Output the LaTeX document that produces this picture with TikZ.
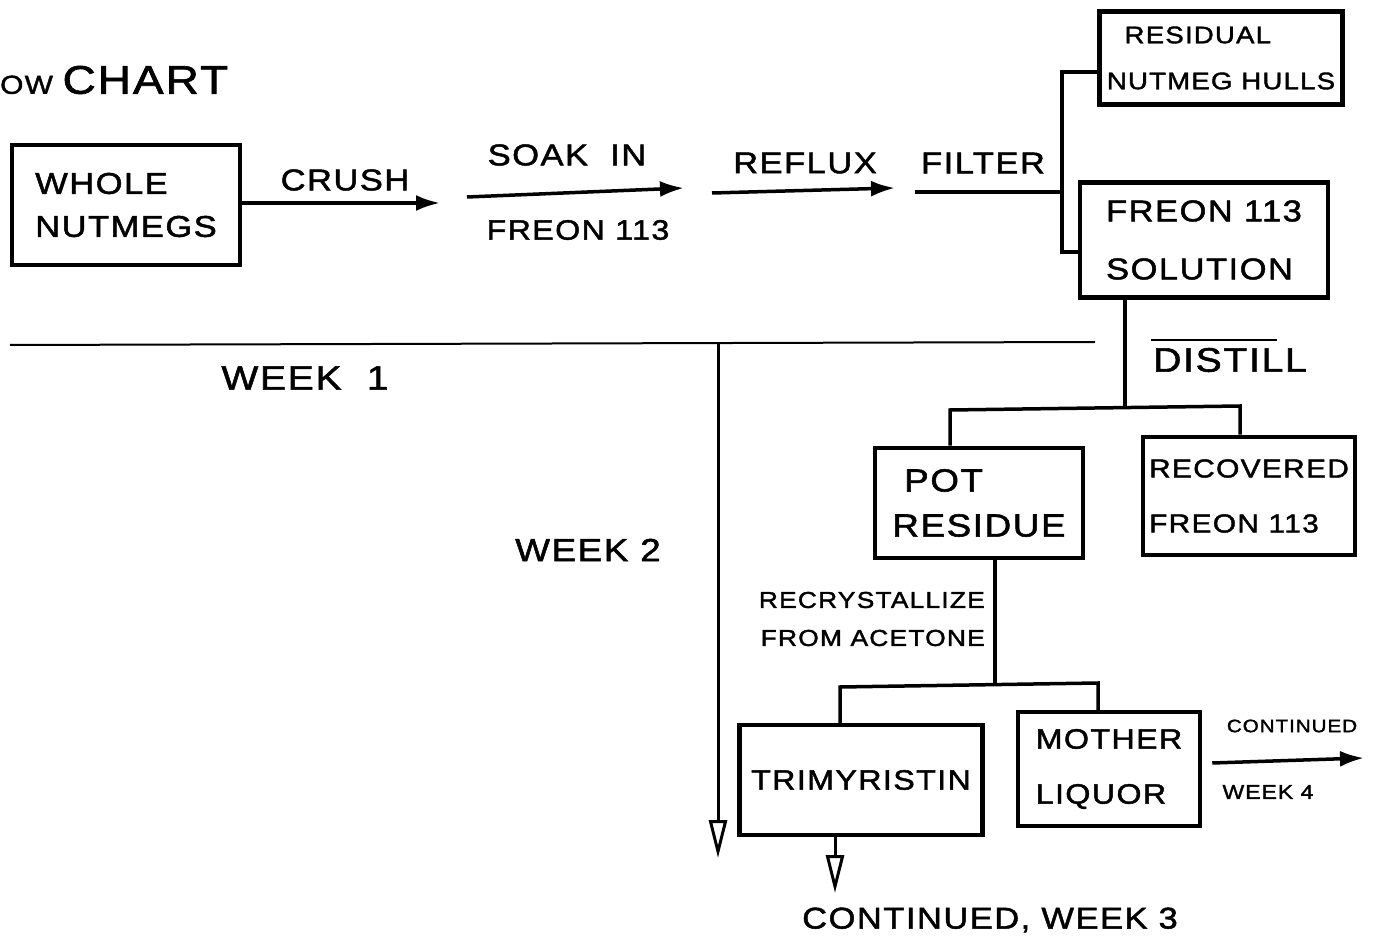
\documentclass[tikz,border=0pt]{standalone}
\usepackage{fontspec}
\setmainfont[FakeStretch=1.15,LetterSpace=5,FakeBold=1.6]{Liberation Sans}
\usetikzlibrary{arrows.meta}
\newcommand\fsz[2]{\fontsize{#1}{#2}\selectfont}
\begin{document}
\begin{tikzpicture}[x=1pt,y=-1pt,
  box/.style={draw,line width=4.5pt,inner sep=0pt,align=left},
  lbl/.style={inner sep=0pt,align=center},
  conn/.style={line width=3.5pt},
  thin/.style={line width=2pt},
  farrow/.style={line width=3.5pt,-{Latex[length=24,width=16]}},
  oarrow/.style={line width=3pt,-{Triangle[open,length=38,width=18,line width=3pt]}}]
\useasboundingbox[fill=white] (0,0) rectangle (1377,949);

% title
\node[lbl,anchor=west] (title) at (0,80) {\fsz{26}{30}OW\ \fsz{40}{46}CHART};

% boxes
\node[box,minimum width=228,minimum height=120,font=\fsz{30}{43}] (whole) at (126,205) {WHOLE\\NUTMEGS};
\node[box,minimum width=243,minimum height=93,font=\fsz{24}{46}] (residual) at (1221,58) {\ \ RESIDUAL\\NUTMEG HULLS};
\node[box,minimum width=248,minimum height=115,font=\fsz{30}{58}] (solution) at (1204,240) {FREON 113\\SOLUTION};
\node[box,minimum width=208,minimum height=110,font=\fsz{32}{45}] (pot) at (979,503) {\ POT\\RESIDUE};
\node[box,minimum width=212,minimum height=118,font=\fsz{26}{55}] (recovered) at (1249,496) {RECOVERED\\FREON 113};
\node[box,minimum width=243,minimum height=110,font=\fsz{28}{34}] (trim) at (861,780) {TRIMYRISTIN};
\node[box,minimum width=182,minimum height=114,font=\fsz{28}{55}] (mother) at (1109,769) {MOTHER\\LIQUOR};

% top row arrows
\coordinate (a1e) at (440,203);
\coordinate (a2s) at (467,197);
\coordinate (a2e) at (684,188);
\coordinate (a3s) at (712,193);
\coordinate (a3e) at (895,188);
\coordinate (fs) at (915,192);
\coordinate (fj) at (1062,192);
\coordinate (fjt) at (1062,72);
\coordinate (fjb) at (1062,252);

\draw[farrow] (whole.east |- a1e) -- (a1e);
\draw[farrow] (a2s) -- (a2e);
\draw[farrow] (a3s) -- (a3e);
\draw[conn] (fs) -- (fj);
\draw[conn] (residual.west |- fjt) -- (fjt) -- (fjb) -- (solution.west |- fjb);

\node[lbl,font=\fsz{30}{36}] (crush) at (345,180) {CRUSH};
\node[lbl,font=\fsz{30}{36}] (soak) at (567,155) {SOAK \ IN};
\node[lbl,font=\fsz{28}{34}] (freon) at (578,230) {FREON 113};
\node[lbl,font=\fsz{30}{36}] (reflux) at (805,163) {REFLUX};
\node[lbl,font=\fsz{30}{36}] (filter) at (983,163) {FILTER};

% week separator
\coordinate (sepl) at (10,345);
\coordinate (sepr) at (1095,342);
\coordinate (wtop) at (718,344);
\coordinate (wbot) at (718,858);
\draw[thin] (sepl) -- (sepr);
\draw[oarrow] (wtop) -- (wbot);
\node[lbl,font=\fsz{34}{40}] (week1) at (305,378) {WEEK \ 1};
\node[lbl,font=\fsz{32}{38}] (week2) at (588,550) {WEEK 2};

% distill
\coordinate (dj) at (1125,408);
\coordinate (dl) at (950,410);
\coordinate (dr) at (1240,406);
\draw[conn] (dj |- solution.south) -- (dj);
\draw[conn] (dl |- pot.north) -- (dl) -- (dr) -- (dr |- recovered.north);
\node[lbl,font=\fsz{34}{40}] (distill) at (1230,360) {DISTILL};
\draw[thin] ([xshift=-2pt,yshift=8pt]distill.north west) -- ([xshift=-30pt,yshift=8pt]distill.north east);

% recrystallize
\coordinate (rj) at (995,685);
\coordinate (rl) at (840,687);
\coordinate (rr) at (1098,683);
\draw[conn] (rj |- pot.south) -- (rj);
\draw[conn] (rl |- trim.north) -- (rl) -- (rr) -- (rr |- mother.north);
\node[lbl,anchor=east,align=right,font=\fsz{23}{38}] (recryst) at (985,619) {RECRYSTALLIZE\\FROM ACETONE};

% continued
\coordinate (m4) at (1364,758);
\draw[farrow] ([xshift=10pt,yshift=6pt]mother.east) -- (m4);
\node[lbl,font=\fsz{18}{22}] (cont4) at (1292,726) {CONTINUED};
\node[lbl,font=\fsz{20}{24}] (week4) at (1268,792) {WEEK 4};

\coordinate (w3) at (835,893);
\draw[oarrow] (trim.south -| w3) -- (w3);
\node[lbl,font=\fsz{30}{36}] (cont3) at (990,920) {CONTINUED, WEEK 3};
\end{tikzpicture}
\end{document}
